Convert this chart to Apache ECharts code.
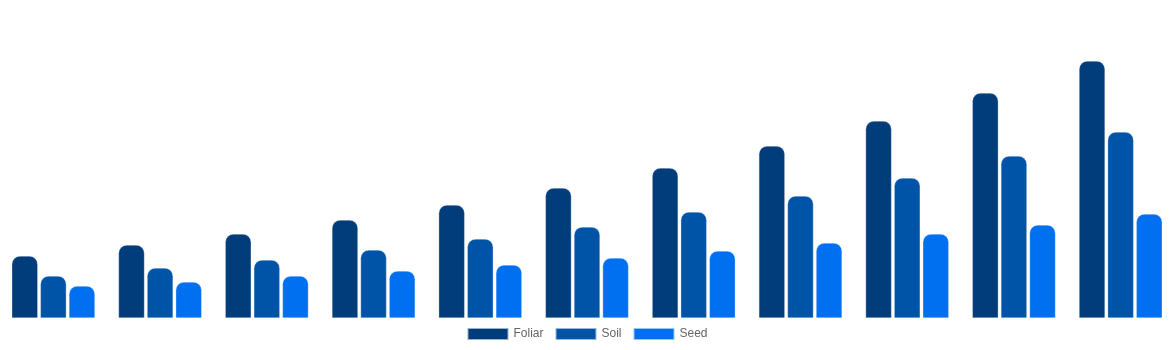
<!DOCTYPE html>
<html>
<head>
<meta charset="utf-8">
<script src="https://cdn.jsdelivr.net/npm/echarts@6/dist/echarts.min.js"></script>
<style>
html,body{margin:0;padding:0;background:#fff;}
#chart{width:1174px;height:350px;}
</style>
</head>
<body>
<div id="chart"></div>
<script>
const categories = ['1','2','3','4','5','6','7','8','9','10','11'];
const foliar = [6.2, 7.3, 8.4, 9.8, 11.3, 13.0, 15.0, 17.2, 19.7, 22.5, 25.7];
const soil   = [4.2, 5.0, 5.8, 6.8, 7.9, 9.1, 10.6, 12.2, 14.0, 16.2, 18.6];
const seed   = [3.2, 3.6, 4.2, 4.7, 5.3, 6.0, 6.7, 7.5, 8.4, 9.3, 10.4];

const chart = echarts.init(document.getElementById('chart'));
const mk = (name, data, color) => ({
  name, type: 'bar', data,
  barWidth: 26, barGap: '10%',
  itemStyle: { color, borderRadius: [8, 8, 0, 0], borderColor: 'rgba(255,255,255,0.6)', borderWidth: 0.5 }
});
chart.setOption({
  animation: false,
  grid: { left: 0, right: 0, top: 0, bottom: 32, containLabel: false },
  legend: {
    bottom: 4, left: 'center', icon: 'rect', itemWidth: 41, itemHeight: 12, itemGap: 11,
    textStyle: { color: '#666', fontSize: 12, fontFamily: 'Liberation Sans, Arial, sans-serif' },
    data: ['Foliar', 'Soil', 'Seed']
  },
  xAxis: { type: 'category', data: categories, show: false },
  yAxis: { type: 'value', min: 0, max: 31.8, show: false },
  series: [
    mk('Foliar', foliar, '#023d7b'),
    mk('Soil', soil, '#0054a8'),
    mk('Seed', seed, '#006ff0')
  ]
});
</script>
</body>
</html>
